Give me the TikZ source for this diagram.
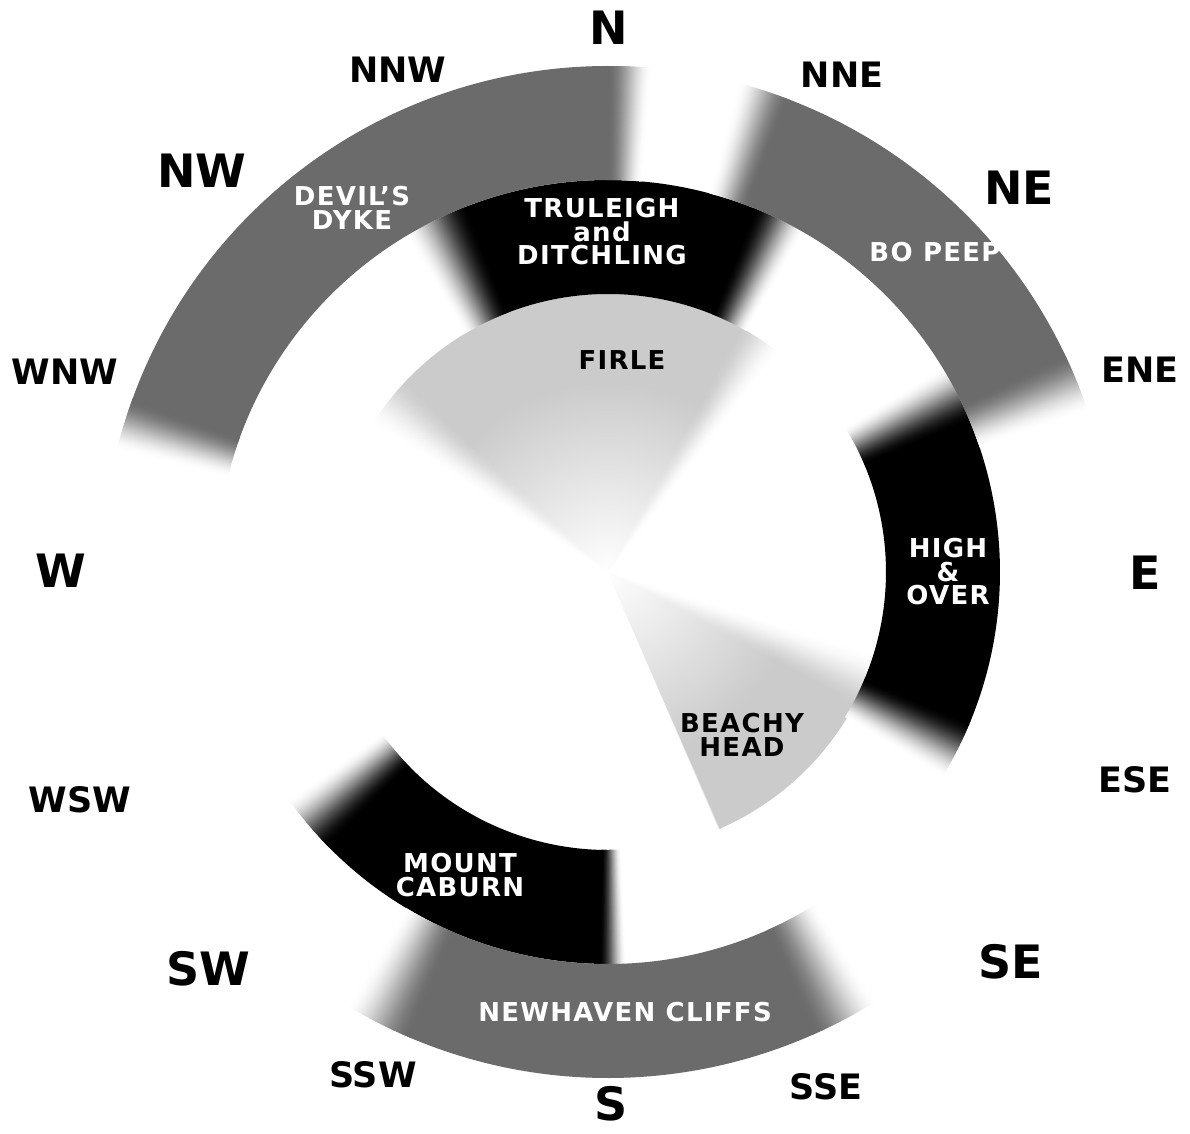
\documentclass[tikz,border=0pt]{standalone}
\usepackage{fontspec}
\setmainfont{DejaVu Sans}
\newfontfamily\sitefont[LetterSpace=5]{DejaVu Sans}
\usetikzlibrary{fadings}
\definecolor{ringgray}{HTML}{6B6B6B}
\definecolor{lightsec}{HTML}{CBCBCB}
\tikzfading[name=cfade, inner color=transparent!0, outer color=transparent!100]

% #1 colour, #2 inner r, #3 outer r, #4 from bearing, #5 to bearing, #6 fade width at start, #7 fade width at end
\newcommand\fuzzseg[7]{%
  \pgfmathsetmacro\segA{90-(#4)}%
  \pgfmathsetmacro\segB{90-(#5)}%
  \foreach \k in {0,...,39}{%
    \pgfmathsetmacro\ff{(\k+0.5)/40}%
    \pgfmathsetmacro\pp{100*\ff*\ff*(3-2*\ff)}%
    \pgfmathsetmacro\aa{\segA+(#6)/2-\k*(#6)/40}%
    \pgfmathsetmacro\ab{\aa-(#6)/40-0.15}%
    \fill[#1!\pp!white] (\aa:#2) -- (\aa:#3) arc[start angle=\aa, end angle=\ab, radius=#3] -- (\ab:#2) arc[start angle=\ab, end angle=\aa, radius=#2] -- cycle;
    \pgfmathsetmacro\ba{\segB-(#7)/2+\k*(#7)/40}%
    \pgfmathsetmacro\bb{\ba+(#7)/40+0.15}%
    \fill[#1!\pp!white] (\ba:#2) -- (\ba:#3) arc[start angle=\ba, end angle=\bb, radius=#3] -- (\bb:#2) arc[start angle=\bb, end angle=\ba, radius=#2] -- cycle;
  }%
  \pgfmathsetmacro\ca{\segA-(#6)/2}%
  \pgfmathsetmacro\cb{\segB+(#7)/2}%
  \fill[#1] (\ca:#2) -- (\ca:#3) arc[start angle=\ca, end angle=\cb, radius=#3] -- (\cb:#2) arc[start angle=\cb, end angle=\ca, radius=#2] -- cycle;
}

\tikzset{
  dirbig/.style={font=\fontsize{46}{46}\selectfont\bfseries, text height=33.5pt, text depth=0pt, inner sep=0pt},
  dirsmall/.style={font=\fontsize{35}{35}\selectfont\bfseries, text height=25.5pt, text depth=0pt, inner sep=0pt},
  site/.style={font=\sitefont\bfseries\fontsize{26}{23.5}\selectfont, align=center, inner sep=0pt, text=white},
  sitedark/.style={site, text=black},
}

\begin{document}
\begin{tikzpicture}[x=1pt, y=1pt]
  \useasboundingbox (-608,-561) rectangle (582,572);
  \fill[white] (-608,-561) rectangle (582,572);

  % light inner sectors
  \fuzzseg{lightsec}{0.5}{278}{308}{393}{12}{10}
  \fuzzseg{lightsec}{0.5}{280}{113}{156.5}{12}{0.5}
  \fill[white, path fading=cfade] (0,0) circle (190);

  % middle black ring
  \fuzzseg{black}{278}{392}{334}{386}{10}{8}
  \fuzzseg{black}{278}{392}{63}{117}{9}{9}
  \fuzzseg{black}{278}{392}{179.3}{230}{4}{9}

  % outer grey ring
  \fuzzseg{ringgray}{392}{506}{287}{362.5}{6}{5}
  \fuzzseg{ringgray}{392}{506}{18}{68}{6}{7}
  \fuzzseg{ringgray}{392}{506}{152}{207}{8}{8}

  % site labels
  \node[site] (dyke) at (-256,364) {DEVIL’S\\DYKE};
  \node[site] (truleigh) at (-6,340) {TRULEIGH\\and\\DITCHLING};
  \node[site] (bopeep) at (327,320) {BO PEEP};
  \node[sitedark] (firle) at (14,212) {FIRLE};
  \node[site] (highover) at (340,0) {HIGH\\\&\\OVER};
  \node[sitedark] (beachy) at (134,-163) {BEACHY\\HEAD};
  \node[site] (caburn) at (-148,-303) {MOUNT\\CABURN};
  \node[site] (newhaven) at (17,-440) {NEWHAVEN CLIFFS};

  % compass labels
  \node[dirbig] (n) at (1,544) {N};
  \node[dirsmall] (nne) at (234,497) {NNE};
  \node[dirbig] (ne) at (411,384) {NE};
  \node[dirsmall] (ene) at (532,202) {ENE};
  \node[dirbig] (e) at (537,-1) {E};
  \node[dirsmall] (ese) at (527,-208) {ESE};
  \node[dirbig] (se) at (403,-390) {SE};
  \node[dirsmall] (sse) at (218,-515) {SSE};
  \node[dirbig] (s) at (3,-532) {S};
  \node[dirsmall] (ssw) at (-235,-503) {SSW};
  \node[dirbig] (sw) at (-400,-397) {SW};
  \node[dirsmall] (wsw) at (-528,-228) {WSW};
  \node[dirbig] (w) at (-547,1) {W};
  \node[dirsmall] (wnw) at (-543,200) {WNW};
  \node[dirbig] (nw) at (-406,401) {NW};
  \node[dirsmall] (nnw) at (-210,502) {NNW};
\end{tikzpicture}
\end{document}
